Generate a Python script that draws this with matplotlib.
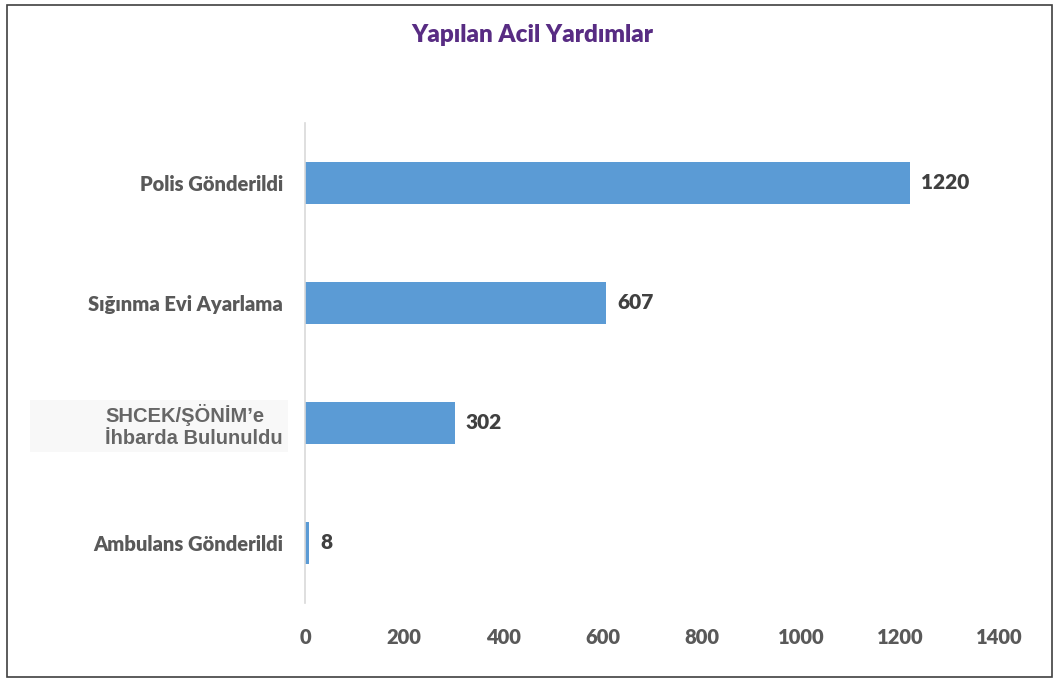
import matplotlib.pyplot as plt
from matplotlib.patches import Rectangle

categories = ["Ambulans Gönderildi", "SHCEK/ŞÖNİM’e\nİhbarda Bulunuldu",
              "Sığınma Evi Ayarlama", "Polis Gönderildi"]
values = [8, 302, 607, 1220]
xticks = [0, 200, 400, 600, 800, 1000, 1200, 1400]

BAR_COLOR = "#5B9BD5"
TEXT_GREY = "#595959"
FONT = "Lato"
WEIGHT = "heavy"

fig = plt.figure(figsize=(10.59, 6.82), dpi=100)
ax = fig.add_axes([0.288, 0.116, 0.656, 0.704])

ypos = list(range(len(categories)))
ax.barh(ypos, values, height=0.35, color=BAR_COLOR)

for y, v in zip(ypos, values):
    ax.text(v + 22, y, str(v), va="center", ha="left", fontsize=15,
            fontweight=WEIGHT, color="#404040", family=FONT)

ax.set_xlim(0, 1400)
ax.set_ylim(-0.5, 3.5)
ax.set_xticks(xticks)
ax.set_xticklabels([str(t) for t in xticks], fontsize=14.5, fontweight=WEIGHT,
                   color=TEXT_GREY, family=FONT)
ax.tick_params(axis="x", length=0, pad=18)
ax.tick_params(axis="y", length=0, pad=16)

ax.set_yticks(ypos)
labels = ax.set_yticklabels(categories, fontsize=14.5, fontweight=WEIGHT,
                            color=TEXT_GREY, family=FONT)
# the SHCEK label is pasted in another font on a faint grey strip
lab = labels[1]
lab.set_family("Liberation Sans")
lab.set_fontweight("bold")
lab.set_fontsize(14.5)
lab.set_color("#666666")
lab.set_multialignment("left")
strip = Rectangle((0.028, 0.337), 0.244, 0.076, transform=fig.transFigure,
                  facecolor="#F8F8F8", edgecolor="none", zorder=-1)
fig.patches.append(strip)

for side in ["top", "right", "bottom"]:
    ax.spines[side].set_visible(False)
ax.spines["left"].set_color("#D9D9D9")
ax.spines["left"].set_linewidth(1.2)

fig.text(0.503, 0.949, "Yapılan Acil Yardımlar", ha="center", va="center",
         fontsize=17.5, fontweight=WEIGHT, color="#582C83", family=FONT)

fig.patches.append(Rectangle((0.007, 0.007), 0.986, 0.986, transform=fig.transFigure,
                             fill=False, edgecolor="#404040", linewidth=1.2))

fig.savefig("out.png", dpi=100)
